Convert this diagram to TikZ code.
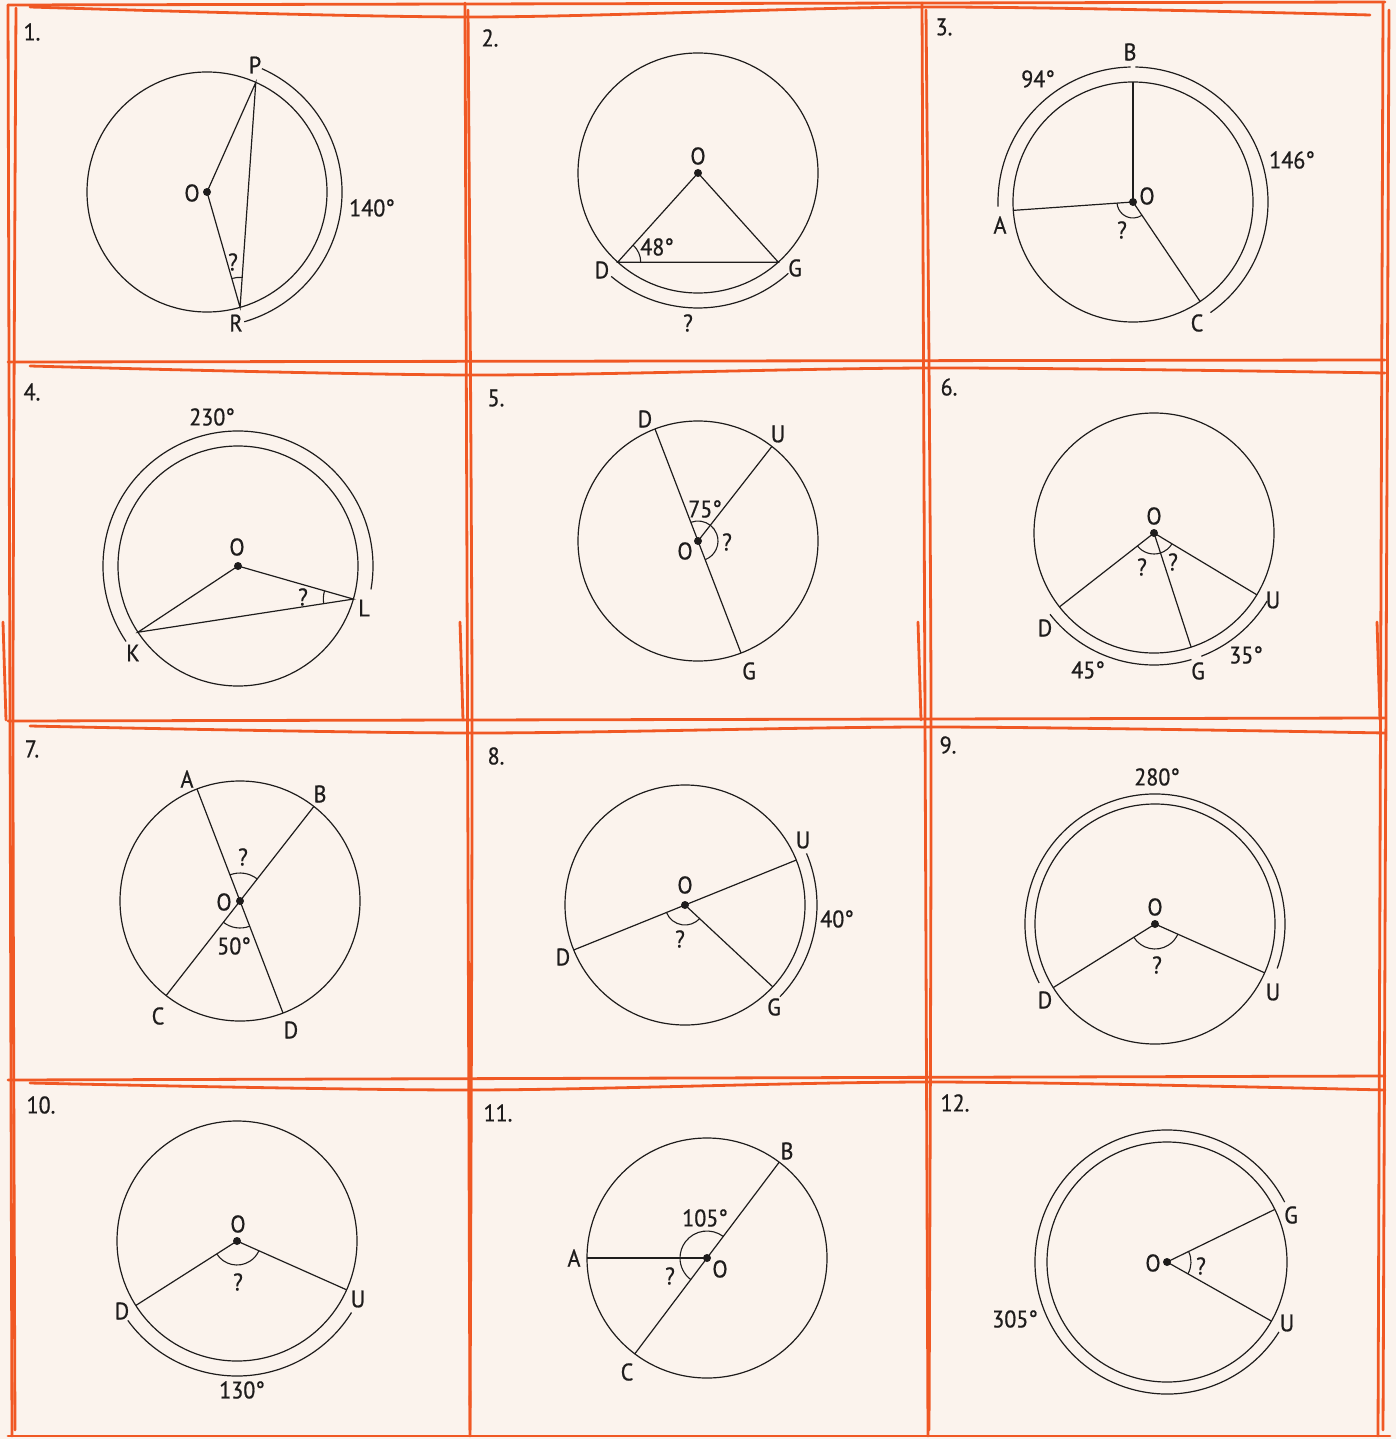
\documentclass[tikz,border=0pt]{standalone}
\usepackage{fontspec}
\setmainfont{PT Sans}
\newfontfamily\labelfont{PT Sans}[FakeBold=0.7, FakeStretch=0.92]
\usetikzlibrary{angles}

\definecolor{paper}{RGB}{251,243,237}
\definecolor{pencil}{RGB}{240,88,36}
\definecolor{ink}{RGB}{30,28,28}

\tikzset{
  rim/.style={draw=ink, line width=1.2pt},
  seg/.style={draw=ink, line width=1.2pt},
  arcmark/.style={draw=ink, line width=1.1pt},
  centre/.style={fill=ink},
  lbl/.style={text=ink, inner sep=0pt, font=\labelfont\fontsize{24}{28}\selectfont},
  grid/.style={draw=pencil, line width=2.8pt, line cap=round},
}

\begin{document}
\begin{tikzpicture}[x=1pt,y=1pt]
\useasboundingbox (0,0) rectangle (1396,-1439);
\fill[paper] (0,0) rectangle (1396,-1439);
% sketchy grid
\draw[grid] (8,-5) -- (1385,-2);
\draw[grid] plot[smooth] coordinates {(30,-7) (470,-17) (930,-7) (1370,-15)};
\draw[grid] (8,-362) -- (1385,-360);
\draw[grid] plot[smooth] coordinates {(30,-366) (470,-375) (930,-368) (1385,-373)};
\draw[grid] (8,-721) -- (1385,-718);
\draw[grid] plot[smooth] coordinates {(30,-726) (470,-733) (930,-727) (1385,-733)};
\draw[grid] (8,-1080) -- (1385,-1076);
\draw[grid] plot[smooth] coordinates {(30,-1083) (470,-1090) (930,-1082) (1385,-1090)};
\draw[grid] (8,-1436) -- (1390,-1436);
\draw[grid] (8,-5) -- (12,-1436);
\draw[grid] plot[smooth] coordinates {(16,-8) (13,-700) (15,-1430)};
\draw[grid] (465,-3) -- (470,-1436);
\draw[grid] plot[smooth] coordinates {(468,-10) (472,-700) (470,-1430)};
\draw[grid] (922,-3) -- (928,-1436);
\draw[grid] plot[smooth] coordinates {(926,-10) (931,-700) (929,-1430)};
\draw[grid] (1383,-3) -- (1378,-1436);
\draw[grid] plot[smooth] coordinates {(1389,-10) (1386,-700) (1383,-1430)};
\draw[grid] (3,-622) -- (6,-720);
\draw[grid] (460,-622) -- (463,-720);
\draw[grid] (918,-622) -- (921,-720);
\draw[grid] (1377,-622) -- (1380,-720);

% 1
\coordinate (O1) at (207,-192);
\coordinate (P1) at ([shift={(66:120pt)}]O1);
\coordinate (R1) at ([shift={(-74:120pt)}]O1);
\draw[rim] (O1) circle (120pt);
\draw[seg] (O1) -- (P1) -- (R1) -- cycle;
\draw[rim] ([shift={(66:135pt)}]O1) arc[start angle=66, end angle=-74, radius=135pt];
\pic[arcmark, angle radius=30pt] {angle=P1--R1--O1};
\fill[centre] (O1) circle (4pt);
\node[lbl] (n1) at (32,-32) {1.};
\node[lbl] (tP1) at (255,-65) {P};
\node[lbl] (tO1) at (192,-193) {O};
\node[lbl] (tR1) at (236,-323) {R};
\node[lbl] (a1) at (372,-208) {140°};
\node[lbl] (q1) at (233,-262) {?};

% 2
\coordinate (O2) at (698,-173);
\coordinate (D2) at ([shift={(228:120pt)}]O2);
\coordinate (G2) at ([shift={(312:120pt)}]O2);
\draw[rim] (O2) circle (120pt);
\draw[seg] (O2) -- (D2) -- (G2) -- cycle;
\draw[rim] ([shift={(230:135pt)}]O2) arc[start angle=230, end angle=312, radius=135pt];
\pic[arcmark, angle radius=23pt] {angle=G2--D2--O2};
\fill[centre] (O2) circle (4pt);
\node[lbl] (n2) at (490,-38) {2.};
\node[lbl] (tO2) at (698,-156) {O};
\node[lbl] (tD2) at (602,-270) {D};
\node[lbl] (tG2) at (795,-268) {G};
\node[lbl] (a2) at (657,-247) {48°};
\node[lbl] (q2) at (688,-323) {?};

% 3
\coordinate (O3) at (1133,-202);
\coordinate (A3) at ([shift={(184:120pt)}]O3);
\coordinate (B3) at ([shift={(90:120pt)}]O3);
\coordinate (C3) at ([shift={(-56:120pt)}]O3);
\draw[rim] (O3) circle (120pt);
\draw[seg] (O3) -- (A3);
\draw[seg] (O3) -- (B3);
\draw[seg] (O3) -- (C3);
\draw[rim] ([shift={(182:135pt)}]O3) arc[start angle=182, end angle=91, radius=135pt];
\draw[rim] ([shift={(89:135pt)}]O3) arc[start angle=89, end angle=-55, radius=135pt];
\pic[arcmark, angle radius=16pt] {angle=A3--O3--C3};
\fill[centre] (O3) circle (4pt);
\node[lbl] (n3) at (944,-27) {3.};
\node[lbl] (tB3) at (1130,-52) {B};
\node[lbl] (tA3) at (1000,-225) {A};
\node[lbl] (tC3) at (1197,-323) {C};
\node[lbl] (tO3) at (1147,-196) {O};
\node[lbl] (a3) at (1038,-79) {94°};
\node[lbl] (b3) at (1292,-160) {146°};
\node[lbl] (q3) at (1122,-230) {?};

% 4
\coordinate (O4) at (238,-566);
\coordinate (K4) at ([shift={(213.5:120pt)}]O4);
\coordinate (L4) at ([shift={(-16:120pt)}]O4);
\draw[rim] (O4) circle (120pt);
\draw[seg] (K4) -- (O4) -- (L4) -- cycle;
\draw[rim] ([shift={(214:135pt)}]O4) arc[start angle=214, end angle=-10, radius=135pt];
\pic[arcmark, angle radius=30pt] {angle=O4--L4--K4};
\fill[centre] (O4) circle (4pt);
\node[lbl] (n4) at (32,-392) {4.};
\node[lbl] (a4) at (212,-417) {230°};
\node[lbl] (tO4) at (237,-547) {O};
\node[lbl] (tK4) at (133,-653) {K};
\node[lbl] (tL4) at (364,-608) {L};
\node[lbl] (q4) at (303,-597) {?};

% 5
\coordinate (O5) at (698,-541);
\coordinate (D5) at ([shift={(111:120pt)}]O5);
\coordinate (G5) at ([shift={(-69:120pt)}]O5);
\coordinate (U5) at ([shift={(52:120pt)}]O5);
\draw[rim] (O5) circle (120pt);
\draw[seg] (D5) -- (G5);
\draw[seg] (O5) -- (U5);
\pic[arcmark, angle radius=20pt] {angle=G5--O5--U5};
\pic[arcmark, angle radius=20pt] {angle=U5--O5--D5};
\fill[centre] (O5) circle (4pt);
\node[lbl] (n5) at (496,-398) {5.};
\node[lbl] (tD5) at (645,-419) {D};
\node[lbl] (tU5) at (778,-434) {U};
\node[lbl] (tG5) at (749,-671) {G};
\node[lbl] (tO5) at (685,-551) {O};
\node[lbl] (a5) at (705,-509) {75°};
\node[lbl] (q5) at (727,-542) {?};

% 6
\coordinate (O6) at (1154,-533);
\coordinate (D6) at ([shift={(218:120pt)}]O6);
\coordinate (G6) at ([shift={(288:120pt)}]O6);
\coordinate (U6) at ([shift={(329:120pt)}]O6);
\draw[rim] (O6) circle (120pt);
\draw[seg] (O6) -- (D6);
\draw[seg] (O6) -- (G6);
\draw[seg] (O6) -- (U6);
\draw[rim] ([shift={(218:132pt)}]O6) arc[start angle=218, end angle=286.5, radius=132pt];
\draw[rim] ([shift={(291:132pt)}]O6) arc[start angle=291, end angle=329, radius=132pt];
\pic[arcmark, angle radius=21pt] {angle=D6--O6--G6};
\pic[arcmark, angle radius=21pt] {angle=G6--O6--U6};
\fill[centre] (O6) circle (4pt);
\node[lbl] (n6) at (949,-387) {6.};
\node[lbl] (tO6) at (1154,-516) {O};
\node[lbl] (tD6) at (1045,-628) {D};
\node[lbl] (tG6) at (1198,-671) {G};
\node[lbl] (tU6) at (1273,-600) {U};
\node[lbl] (a6) at (1088,-670) {45°};
\node[lbl] (b6) at (1246,-655) {35°};
\node[lbl] (q6) at (1142,-567) {?};
\node[lbl] (r6) at (1173,-562) {?};

% 7
\coordinate (O7) at (240,-901);
\coordinate (A7) at ([shift={(111:120pt)}]O7);
\coordinate (D7) at ([shift={(-69:120pt)}]O7);
\coordinate (B7) at ([shift={(52:120pt)}]O7);
\coordinate (C7) at ([shift={(232:120pt)}]O7);
\draw[rim] (O7) circle (120pt);
\draw[seg] (A7) -- (D7);
\draw[seg] (B7) -- (C7);
\pic[arcmark, angle radius=28pt] {angle=B7--O7--A7};
\pic[arcmark, angle radius=27pt] {angle=C7--O7--D7};
\fill[centre] (O7) circle (4pt);
\node[lbl] (n7) at (32,-749) {7.};
\node[lbl] (tA7) at (187,-779) {A};
\node[lbl] (tB7) at (320,-794) {B};
\node[lbl] (tC7) at (158,-1016) {C};
\node[lbl] (tD7) at (291,-1030) {D};
\node[lbl] (tO7) at (224,-902) {O};
\node[lbl] (q7) at (243,-857) {?};
\node[lbl] (a7) at (234,-946) {50°};

% 8
\coordinate (O8) at (685,-905);
\coordinate (U8) at ([shift={(22:120pt)}]O8);
\coordinate (D8) at ([shift={(202:120pt)}]O8);
\coordinate (G8) at ([shift={(-43:120pt)}]O8);
\draw[rim] (O8) circle (120pt);
\draw[seg] (D8) -- (U8);
\draw[seg] (O8) -- (G8);
\draw[rim] ([shift={(23:132pt)}]O8) arc[start angle=23, end angle=-44, radius=132pt];
\pic[arcmark, angle radius=20pt] {angle=D8--O8--G8};
\fill[centre] (O8) circle (4pt);
\node[lbl] (n8) at (496,-756) {8.};
\node[lbl] (tO8) at (685,-885) {O};
\node[lbl] (tU8) at (803,-840) {U};
\node[lbl] (tD8) at (563,-957) {D};
\node[lbl] (tG8) at (774,-1007) {G};
\node[lbl] (a8) at (837,-919) {40°};
\node[lbl] (q8) at (680,-939) {?};

% 9
\coordinate (O9) at (1155,-924);
\coordinate (D9) at ([shift={(212:120pt)}]O9);
\coordinate (U9) at ([shift={(-24:120pt)}]O9);
\draw[rim] (O9) circle (120pt);
\draw[seg] (D9) -- (O9) -- (U9);
\draw[rim] ([shift={(207:130pt)}]O9) arc[start angle=207, end angle=-20, radius=130pt];
\pic[arcmark, angle radius=25pt] {angle=D9--O9--U9};
\fill[centre] (O9) circle (4pt);
\node[lbl] (n9) at (948,-745) {9.};
\node[lbl] (a9) at (1157,-777) {280°};
\node[lbl] (tO9) at (1155,-907) {O};
\node[lbl] (tD9) at (1045,-1000) {D};
\node[lbl] (tU9) at (1273,-992) {U};
\node[lbl] (q9) at (1157,-965) {?};

% 10
\coordinate (O10) at (237,-1241);
\coordinate (D10) at ([shift={(212.5:120pt)}]O10);
\coordinate (U10) at ([shift={(-24:120pt)}]O10);
\draw[rim] (O10) circle (120pt);
\draw[seg] (D10) -- (O10) -- (U10);
\draw[rim] ([shift={(216:135pt)}]O10) arc[start angle=216, end angle=328, radius=135pt];
\pic[arcmark, angle radius=24pt] {angle=D10--O10--U10};
\fill[centre] (O10) circle (4pt);
\node[lbl] (n10) at (41,-1105) {10.};
\node[lbl] (tO10) at (238,-1224) {O};
\node[lbl] (tD10) at (122,-1311) {D};
\node[lbl] (tU10) at (358,-1299) {U};
\node[lbl] (a10) at (242,-1390) {130°};
\node[lbl] (q10) at (238,-1282) {?};

% 11
\coordinate (O11) at (707,-1258);
\coordinate (A11) at ([shift={(180:120pt)}]O11);
\coordinate (B11) at ([shift={(53:120pt)}]O11);
\coordinate (C11) at ([shift={(233:120pt)}]O11);
\draw[rim] (O11) circle (120pt);
\draw[seg] (A11) -- (O11);
\draw[seg] (B11) -- (C11);
\pic[arcmark, angle radius=27pt] {angle=B11--O11--A11};
\pic[arcmark, angle radius=27pt] {angle=A11--O11--C11};
\fill[centre] (O11) circle (4pt);
\node[lbl] (n11) at (498,-1113) {11.};
\node[lbl] (tB11) at (787,-1151) {B};
\node[lbl] (tA11) at (574,-1258) {A};
\node[lbl] (tC11) at (627,-1372) {C};
\node[lbl] (tO11) at (720,-1269) {O};
\node[lbl] (a11) at (705,-1218) {105°};
\node[lbl] (q11) at (670,-1276) {?};

% 12
\coordinate (O12) at (1167,-1262);
\coordinate (G12) at ([shift={(26:120pt)}]O12);
\coordinate (U12) at ([shift={(-29.5:120pt)}]O12);
\draw[rim] (O12) circle (120pt);
\draw[seg] (G12) -- (O12) -- (U12);
\draw[rim] ([shift={(27:132pt)}]O12) arc[start angle=27, end angle=328, radius=132pt];
\pic[arcmark, angle radius=24pt] {angle=U12--O12--G12};
\fill[centre] (O12) circle (4pt);
\node[lbl] (n12) at (955,-1103) {12.};
\node[lbl] (tG12) at (1291,-1215) {G};
\node[lbl] (tO12) at (1153,-1263) {O};
\node[lbl] (tU12) at (1287,-1323) {U};
\node[lbl] (a12) at (1015,-1319) {305°};
\node[lbl] (q12) at (1201,-1266) {?};
\end{tikzpicture}
\end{document}
